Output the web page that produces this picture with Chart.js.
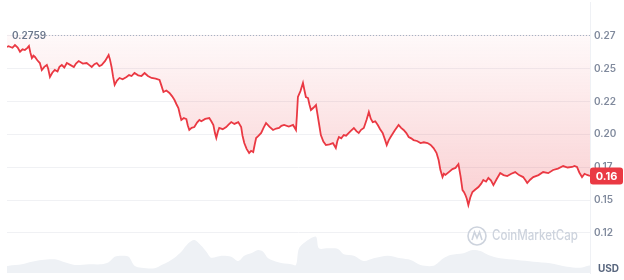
<!DOCTYPE html>
<html>
<head>
<meta charset="utf-8">
<script src="https://cdn.jsdelivr.net/npm/chart.js@4.4.0/dist/chart.umd.min.js"></script>
<style>
	body { margin: 0; background: #fff; }
	#wrap { width: 624px; height: 280px; }
</style>
</head>
<body>
<div id="wrap"><canvas id="priceChart"></canvas></div>
<script>
// Price samples (day offset, USD)
const priceDays = [
	0, 0.08, 0.15, 0.28, 0.41, 0.55, 0.67, 0.80, 0.92, 1.05,
	1.13, 1.20, 1.28, 1.36, 1.44, 1.56, 1.69, 1.79, 1.92, 2.05,
	2.12, 2.21, 2.33, 2.46, 2.60, 2.70, 2.82, 2.95, 3.08, 3.25,
	3.44, 3.55, 3.69, 3.90, 4.10, 4.22, 4.36, 4.50, 4.62, 4.75,
	4.87, 5.05, 5.23, 5.30, 5.38, 5.46, 5.54, 5.66, 5.79, 5.95,
	6.15, 6.28, 6.41, 6.56, 6.75, 6.92, 7.08, 7.25, 7.44, 7.65,
	7.85, 7.95, 8.05, 8.20, 8.36, 8.50, 8.62, 8.72, 8.82, 8.90,
	8.97, 9.10, 9.23, 9.30, 9.38, 9.50, 9.64, 9.78, 9.90, 10.0,
	10.2, 10.41, 10.52, 10.62, 10.70, 10.77, 10.85, 10.92, 11.10, 11.28,
	11.40, 11.54, 11.70, 11.90, 12.05, 12.12, 12.21, 12.33, 12.46, 12.56,
	12.67, 12.75, 12.82, 12.95, 13.08, 13.20, 13.33, 13.50, 13.69, 13.85,
	14.00, 14.12, 14.26, 14.50, 14.72, 14.87, 14.92, 14.97, 15.10, 15.23,
	15.30, 15.38, 15.49, 15.56, 15.64, 15.78, 15.90, 15.98, 16.05, 16.15,
	16.28, 16.41, 16.60, 16.77, 16.92, 17.00, 17.08, 17.20, 17.33, 17.45,
	17.59, 17.72, 17.85, 17.98, 18.10, 18.22, 18.36, 18.50, 18.62, 18.72,
	18.82, 18.95, 19.08, 19.20, 19.33, 19.45, 19.54, 19.64, 19.74, 19.95,
	20.15, 20.28, 20.41, 20.55, 20.67, 20.80, 20.92, 21.10, 21.28, 21.45,
	21.64, 21.80, 21.95, 22.10, 22.21, 22.30, 22.41, 22.48, 22.56, 22.75,
	22.92, 23.08, 23.23, 23.34, 23.44, 23.52, 23.59, 23.66, 23.74, 23.84,
	23.95, 24.10, 24.26, 24.40, 24.51, 24.65, 24.77, 24.90, 25.03, 25.20,
	25.38, 25.55, 25.74, 25.95, 26.15, 26.35, 26.56, 26.68, 26.77, 26.92,
	27.08, 27.35, 27.59, 27.85, 28.10, 28.35, 28.62, 28.85, 29.08, 29.20,
	29.33, 29.45, 29.59, 29.72, 29.85, 30.0
];
const prices = [
	0.2666, 0.2672, 0.2668, 0.2660, 0.2681, 0.2662, 0.2630, 0.2648, 0.2643, 0.2660,
	0.2674, 0.2625, 0.2582, 0.2600, 0.2590, 0.2565, 0.2544, 0.2491, 0.2515, 0.2529,
	0.2500, 0.2438, 0.2470, 0.2491, 0.2480, 0.2515, 0.2529, 0.2510, 0.2544, 0.2530,
	0.2514, 0.2540, 0.2559, 0.2540, 0.2544, 0.2530, 0.2514, 0.2535, 0.2544, 0.2520,
	0.2529, 0.2560, 0.2605, 0.2570, 0.2514, 0.2440, 0.2377, 0.2410, 0.2430, 0.2420,
	0.2438, 0.2452, 0.2445, 0.2468, 0.2450, 0.2445, 0.2468, 0.2445, 0.2430, 0.2425,
	0.2415, 0.2370, 0.2323, 0.2335, 0.2316, 0.2290, 0.2262, 0.2230, 0.2201, 0.2150,
	0.2110, 0.2125, 0.2117, 0.2070, 0.2034, 0.2050, 0.2056, 0.2090, 0.2110, 0.2100,
	0.2118, 0.2125, 0.2098, 0.2072, 0.2010, 0.1973, 0.2020, 0.2049, 0.2040, 0.2056,
	0.2075, 0.2094, 0.2080, 0.2094, 0.2056, 0.1990, 0.1934, 0.1890, 0.1858, 0.1875,
	0.1866, 0.1925, 0.1973, 0.1990, 0.2011, 0.2050, 0.2087, 0.2060, 0.2034, 0.2045,
	0.2049, 0.2065, 0.2072, 0.2060, 0.2072, 0.2034, 0.2150, 0.2285, 0.2330, 0.2392,
	0.2340, 0.2285, 0.2277, 0.2230, 0.2186, 0.2205, 0.2224, 0.2150, 0.2087, 0.1995,
	0.1945, 0.1919, 0.1925, 0.1934, 0.1896, 0.1950, 0.1980, 0.1970, 0.1995, 0.1990,
	0.2011, 0.2030, 0.2049, 0.2025, 0.2011, 0.2035, 0.2049, 0.2110, 0.2171, 0.2120,
	0.2094, 0.2100, 0.2072, 0.2040, 0.2011, 0.1960, 0.1919, 0.1955, 0.1980, 0.2030,
	0.2072, 0.2050, 0.2034, 0.2010, 0.1980, 0.1970, 0.1957, 0.1950, 0.1934, 0.1940,
	0.1934, 0.1920, 0.1896, 0.1860, 0.1805, 0.1730, 0.1675, 0.1700, 0.1691, 0.1715,
	0.1736, 0.1745, 0.1774, 0.1680, 0.1576, 0.1560, 0.1538, 0.1510, 0.1462, 0.1520,
	0.1561, 0.1580, 0.1599, 0.1625, 0.1652, 0.1640, 0.1668, 0.1650, 0.1614, 0.1660,
	0.1706, 0.1690, 0.1683, 0.1700, 0.1713, 0.1690, 0.1675, 0.1650, 0.1630, 0.1655,
	0.1675, 0.1690, 0.1713, 0.1705, 0.1729, 0.1740, 0.1759, 0.1748, 0.1752, 0.1760,
	0.1752, 0.1710, 0.1675, 0.1700, 0.1691, 0.1683
];

// Volume samples (day offset, millions USD)
const volumeDays = [
	0, 0.10, 0.77, 1.28, 1.79, 2.46, 2.97, 3.49, 4.21, 4.87, 5.23, 5.54, 5.90, 6.26, 6.56, 6.92, 7.59, 7.95, 8.31, 8.62,
	8.97, 9.33, 9.64, 10.0, 10.26, 10.51, 11.03, 11.54, 11.90, 12.21, 12.56, 12.92, 13.18, 13.44, 13.95, 14.62, 14.87, 15.03, 15.49, 15.90,
	16.05, 16.51, 17.03, 17.33, 17.85, 18.36, 18.87, 19.59, 20.26, 20.77, 21.28, 21.95, 22.46, 22.82, 23.49, 23.95, 24.36, 24.77, 25.38, 26.26,
	27.08, 27.95, 28.82, 29.49, 29.90, 30.0
];
const volumes = [
	7.0, 7.3, 8.7, 11.3, 13.0, 13.7, 10.7, 8.0, 8.7, 8.7, 10.7, 16.3, 17.3, 16.3, 7.3, 5.3, 4.7, 8.0, 11.3, 15.3,
	21.3, 29.7, 33.0, 27.3, 21.3, 15.3, 17.3, 16.3, 12.0, 17.3, 19.7, 23.0, 21.3, 14.7, 10.7, 8.7, 8.0, 24.7, 33.0, 36.3,
	24.7, 24.7, 24.0, 18.7, 17.3, 12.0, 14.7, 17.3, 14.7, 13.0, 8.0, 7.3, 14.7, 18.0, 19.7, 23.0, 22.0, 18.0, 14.7, 13.0,
	11.3, 9.7, 6.3, 5.3, 7.3, 7.5
];

const priceTicks = [0.125, 0.15, 0.175, 0.2, 0.225, 0.25, 0.275];
const periodHigh = 0.2759;
const currency = 'USD';
const brand = 'CoinMarketCap';

const RED = '#ea3943';
const LABEL_GREY = '#808a9d';

function truncate2(v) {
	return (Math.floor(v * 100 + 1e-6) / 100).toFixed(2);
}

// Dotted high line, its label, current price tag, watermark, currency
const overlayPlugin = {
	id: 'overlay',
	beforeDatasetsDraw(chart) {
		const { ctx } = chart;
		// watermark
		const cx = 477, cy = 236;
		ctx.save();
		ctx.strokeStyle = '#cdd3dd';
		ctx.lineWidth = 1.6;
		ctx.beginPath();
		ctx.arc(cx, cy, 9, 0, Math.PI * 2);
		ctx.stroke();
		ctx.beginPath();
		ctx.moveTo(cx - 5, cy + 4);
		ctx.lineTo(cx - 2.5, cy - 4);
		ctx.lineTo(cx, cy + 2);
		ctx.lineTo(cx + 2.5, cy - 4);
		ctx.lineTo(cx + 5, cy + 4);
		ctx.stroke();
		ctx.fillStyle = '#cdd3dd';
		ctx.font = '500 14px Inter';
		ctx.textBaseline = 'middle';
		ctx.fillText(brand, 492, cy, 86);
		ctx.restore();
	},
	afterDatasetsDraw(chart) {
		const { ctx, chartArea, scales } = chart;
		const y = scales.y;
		ctx.save();

		// high line
		const hy = Math.round(y.getPixelForValue(periodHigh)) + 0.5;
		ctx.strokeStyle = '#a7b1c2';
		ctx.lineWidth = 1;
		ctx.setLineDash([1, 2]);
		ctx.beginPath();
		ctx.moveTo(46, hy);
		ctx.lineTo(chartArea.right, hy);
		ctx.stroke();
		ctx.setLineDash([]);
		ctx.fillStyle = '#6b778c';
		ctx.font = '600 10px Inter';
		ctx.textBaseline = 'middle';
		ctx.textAlign = 'left';
		ctx.fillText(periodHigh.toFixed(4), 12, hy);

		// current price tag
		const last = prices[prices.length - 1];
		const ty = y.getPixelForValue(last);
		const tx = chartArea.right;
		ctx.fillStyle = RED;
		ctx.beginPath();
		ctx.roundRect(tx, ty - 8.5, 33, 17, 3);
		ctx.fill();
		ctx.fillStyle = '#fff';
		ctx.font = '700 11px Inter';
		ctx.textAlign = 'center';
		ctx.fillText(truncate2(last), tx + 16.5, ty + 0.5);

		// currency
		ctx.fillStyle = '#58667e';
		ctx.font = '700 10px Inter';
		ctx.textAlign = 'left';
		ctx.fillText(currency, 598, 269);
		ctx.restore();
	}
};

document.addEventListener('DOMContentLoaded', function () {
	const ctx = document.getElementById('priceChart').getContext('2d');

	new Chart(ctx, {
		type: 'line',
		data: {
			datasets: [
				{
					label: 'Price',
					data: priceDays.map((d, i) => ({ x: d, y: prices[i] })),
					yAxisID: 'y',
					borderColor: RED,
					borderWidth: 1.8,
					pointRadius: 0,
					tension: 0,
					order: 1,
					fill: { value: periodHigh },
					backgroundColor: (context) => {
						const area = context.chart.chartArea;
						if (!area) return 'rgba(234,57,67,0.1)';
						const g = context.chart.ctx.createLinearGradient(0, 36, 0, 205);
						g.addColorStop(0, 'rgba(234,57,67,0.03)');
						g.addColorStop(1, 'rgba(234,57,67,0.24)');
						return g;
					},
				},
				{
					label: 'Volume',
					data: volumeDays.map((d, i) => ({ x: d, y: volumes[i] })),
					yAxisID: 'yv',
					borderWidth: 0,
					borderColor: 'rgba(0,0,0,0)',
					backgroundColor: '#eef1f5',
					pointRadius: 0,
					tension: 0.3,
					fill: 'start',
					order: 2,
				},
			],
		},
		options: {
			responsive: true,
			maintainAspectRatio: false,
			animation: false,
			events: [],
			layout: { padding: { left: 7, top: 2, right: 0, bottom: 7 } },
			plugins: {
				legend: { display: false },
				tooltip: { enabled: false },
			},
			scales: {
				x: {
					type: 'linear',
					min: 0,
					max: 30,
					display: false,
				},
				y: {
					position: 'right',
					min: 0.0944,
					max: 0.3009,
					afterBuildTicks: (scale) => {
						scale.ticks = priceTicks.map((v) => ({ value: v }));
					},
					afterFit: (scale) => {
						scale.width = 34;
						scale.paddingTop = 0;
						scale.paddingBottom = 0;
					},
					grid: { color: '#f0f1f4', drawTicks: false },
					border: { display: true, color: '#eff1f5' },
					ticks: {
						padding: 4,
						color: LABEL_GREY,
						font: { family: 'Inter', size: 10, weight: '600' },
						callback: (v) => truncate2(v),
					},
				},
				yv: {
					display: false,
					min: 0,
					max: 271,
				},
			},
		},
		plugins: [overlayPlugin],
	});
});
</script>
</body>
</html>
